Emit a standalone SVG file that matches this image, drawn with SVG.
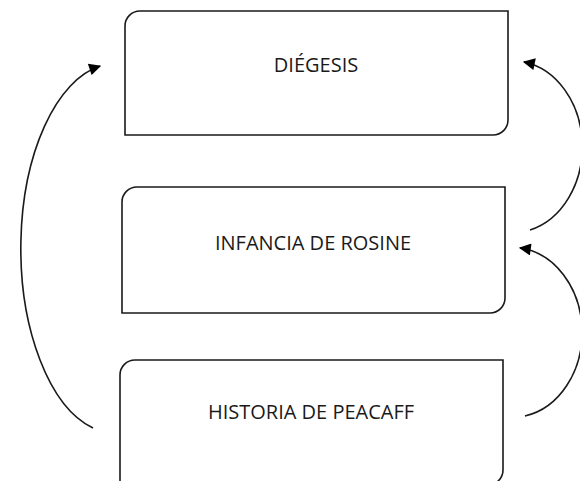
<svg xmlns="http://www.w3.org/2000/svg" width="580" height="481" viewBox="0 0 580 481">
<style>
.box{fill:#fff;stroke:#1a1a1a;stroke-width:1.6}
.lbl{font-family:"Open Sans","Liberation Sans",sans-serif;font-size:20px;fill:#1a1a1a;text-anchor:middle}
.arc{fill:none;stroke:#1a1a1a;stroke-width:1.6}
</style>
<defs>
<marker id="ah" viewBox="0 0 10 10" refX="9" refY="5" markerWidth="8" markerHeight="8" markerUnits="userSpaceOnUse" orient="auto">
<path d="M0,0 L10,5 L0,10 z" fill="#000"/>
</marker>
<marker id="ah2" viewBox="0 0 10 10" refX="9" refY="5" markerWidth="14" markerHeight="12" markerUnits="userSpaceOnUse" orient="auto">
<path d="M0,0 L10,5 L0,10 z" fill="#000"/>
</marker>
</defs>
<rect width="580" height="481" fill="#fff"/>
<g id="connectors">
<path class="arc" d="M93,428 A95,185 0 0 1 100,66" marker-end="url(#ah2)"/>
<path class="arc" d="M530,230 A70,86 0 0 0 524,62" marker-end="url(#ah2)"/>
<path class="arc" d="M525,416 A70,85 0 0 0 520,248" marker-end="url(#ah2)"/>
</g>
<g id="node-diegesis">
<path class="box" d="M140,11 H508 V120 A15,15 0 0 1 493,135 H125 V26 A15,15 0 0 1 140,11 Z"/>
<text class="lbl" x="316" y="72">DIÉGESIS</text>
</g>
<g id="node-infancia">
<path class="box" d="M137,187 H505 V298 A15,15 0 0 1 490,313 H122 V202 A15,15 0 0 1 137,187 Z"/>
<text class="lbl" x="313" y="250">INFANCIA DE ROSINE</text>
</g>
<g id="node-historia">
<path class="box" d="M135,360 H503 V470 A15,15 0 0 1 488,485 H120 V375 A15,15 0 0 1 135,360 Z"/>
<text class="lbl" x="311" y="419">HISTORIA DE PEACAFF</text>
</g>
</svg>
